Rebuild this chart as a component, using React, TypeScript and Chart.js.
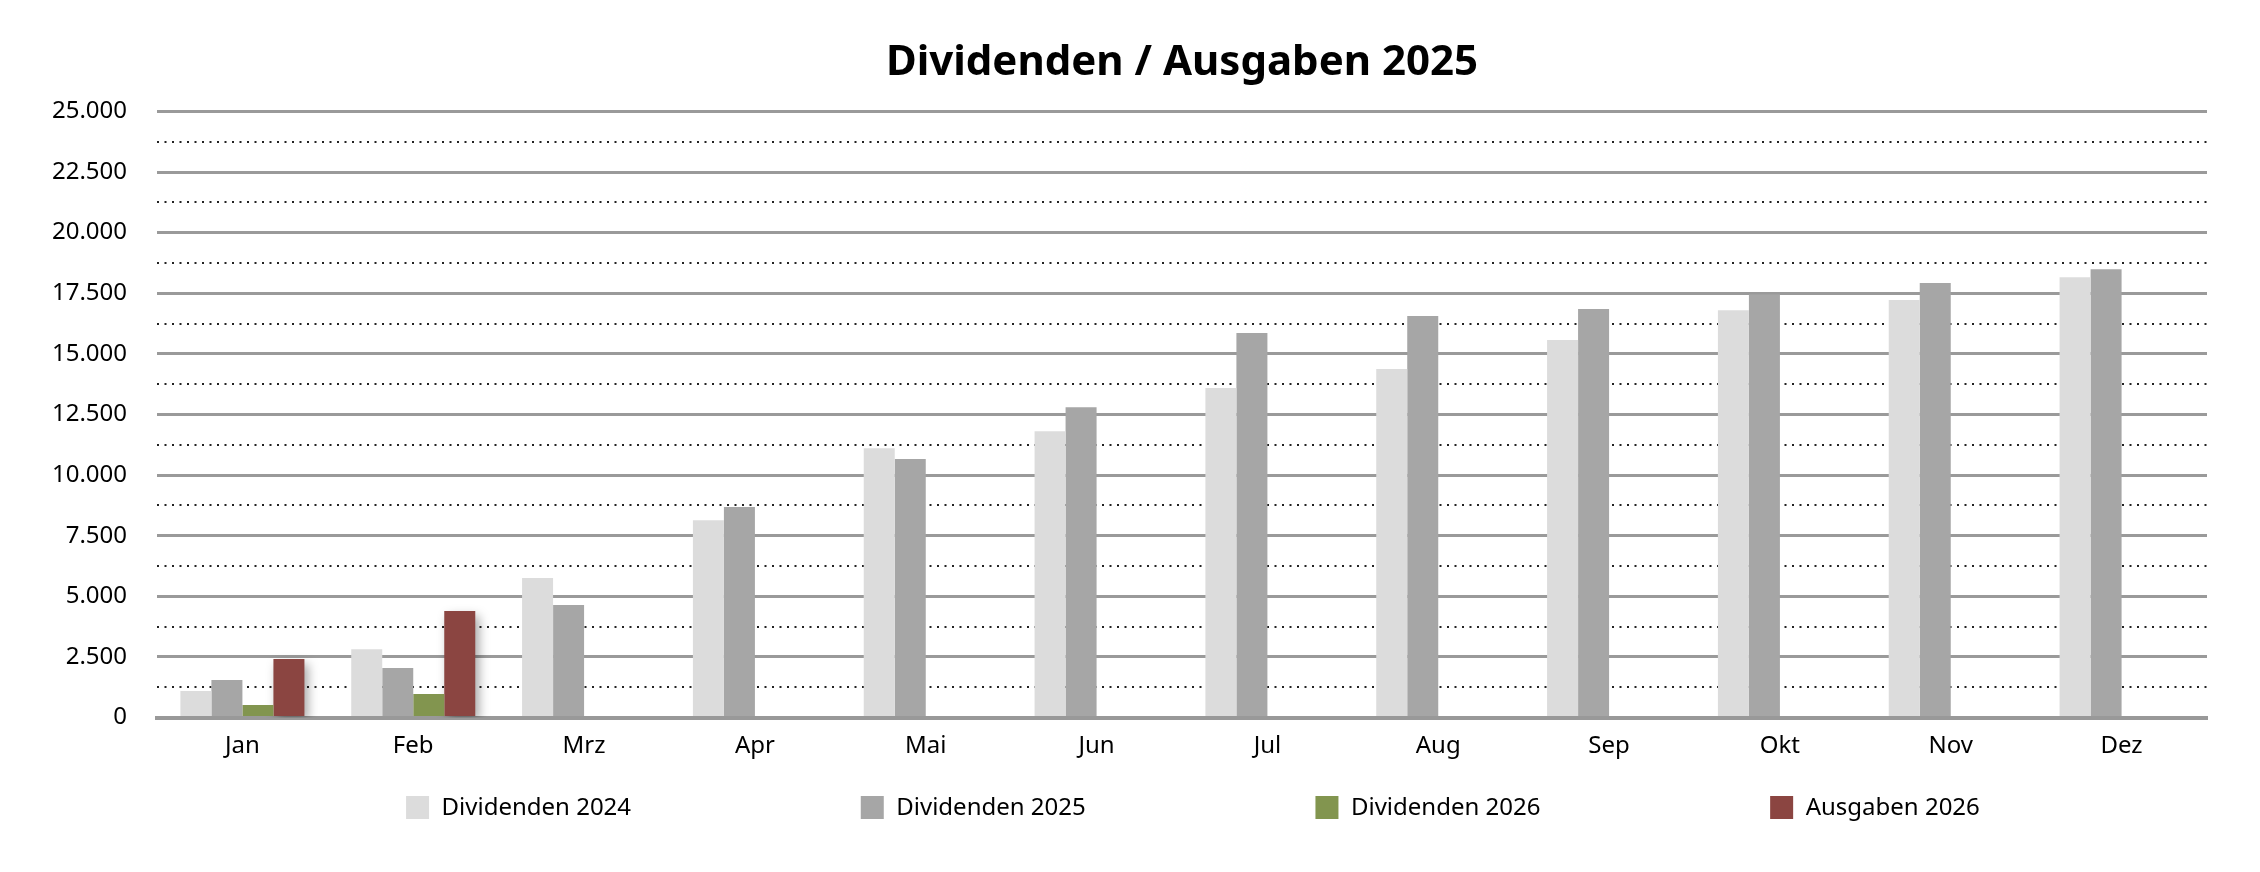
import React, { useEffect, useRef } from 'react';
import { Chart, registerables } from 'chart.js';

Chart.register(...registerables);

// ---- data ----
const months = ['Jan', 'Feb', 'Mrz', 'Apr', 'Mai', 'Jun', 'Jul', 'Aug', 'Sep', 'Okt', 'Nov', 'Dez'];
const dividenden2024 = [1090, 2820, 5750, 8140, 11110, 11810, 13590, 14370, 15570, 16800, 17220, 18160];
const dividenden2025 = [1550, 2040, 4640, 8680, 10660, 12800, 15860, 16560, 16850, 17450, 17920, 18490];
const dividenden2026 = [520, 970, null, null, null, null, null, null, null, null, null, null];
const ausgaben2026 = [2410, 4390, null, null, null, null, null, null, null, null, null, null];
const seriesNames = ['Dividenden 2024', 'Dividenden 2025', 'Dividenden 2026', 'Ausgaben 2026'];
const seriesColors = ['#dcdcdc', '#a6a6a6', '#82954f', '#8b4541'];
const titleText = 'Dividenden / Ausgaben 2025';
const yMin = 0;
const yMax = 25000;
const yMajorStep = 2500;
const yMinorStep = 1250;

const FONT = "'Noto Sans', sans-serif";

function formatDE(v: number): string {
  const s = String(Math.round(v));
  return s.replace(/\B(?=(\d{3})+(?!\d))/g, '.');
}

const shadowPlugin = {
  id: 'barShadow',
  beforeDatasetDraw(chart: any, args: any) {
    if (args.index === 3) {
      const ctx = chart.ctx;
      ctx.save();
      ctx.shadowColor = 'rgba(0,0,0,0.35)';
      ctx.shadowBlur = 10;
      ctx.shadowOffsetX = 4;
      ctx.shadowOffsetY = 5;
    }
  },
  afterDatasetDraw(chart: any, args: any) {
    if (args.index === 3) {
      chart.ctx.restore();
    }
  },
};

const spacedLegendPlugin = {
  id: 'spacedLegend',
  afterDraw(chart: any) {
    const { ctx, chartArea } = chart;
    const w = chartArea.right - chartArea.left;
    const y = chartArea.bottom + 90;
    const box = 23;
    ctx.save();
    ctx.font = `24px ${FONT}`;
    ctx.textBaseline = 'middle';
    ctx.textAlign = 'left';
    chart.data.datasets.forEach((ds: any, i: number) => {
      const x = chartArea.left + w * (0.1215 + i * 0.2218);
      ctx.fillStyle = ds.backgroundColor;
      ctx.fillRect(x, y - box / 2, box, box);
      ctx.fillStyle = '#000';
      ctx.fillText(ds.label, x + box + 12.5, y + 1);
    });
    ctx.restore();
  },
};

export default function App() {
  const canvasRef = useRef<HTMLCanvasElement | null>(null);

  useEffect(() => {
    if (!canvasRef.current) return;
    const seriesData = [dividenden2024, dividenden2025, dividenden2026, ausgaben2026];
    const chart = new Chart(canvasRef.current, {
      type: 'bar',
      data: {
        labels: months,
        datasets: seriesData.map((d, i) => ({
          label: seriesNames[i],
          data: d,
          backgroundColor: seriesColors[i],
          borderWidth: 0,
          categoryPercentage: 0.726,
          barPercentage: 1.0,
        })),
      },
      options: {
        responsive: false,
        animation: false,
        devicePixelRatio: 1,
        layout: { padding: { left: 0, right: 45, top: 0, bottom: 0 } },
        plugins: {
          legend: { display: false },
          tooltip: { enabled: false },
          title: {
            display: true,
            text: titleText,
            fullSize: false,
            color: '#000',
            font: { family: FONT, size: 42, weight: 'bold' },
            padding: { top: 30, bottom: 23 },
          },
        },
        scales: {
          x: {
            grid: { display: false },
            border: { display: true, color: '#999', width: 4 },
            ticks: {
              color: '#000',
              font: { family: FONT, size: 24 },
              padding: 6,
              maxRotation: 0,
              autoSkip: false,
            },
            afterFit: (s: any) => {
              s.height = 146.5;
            },
          },
          y: {
            position: 'left',
            min: yMin,
            max: yMax,
            ticks: {
              stepSize: yMajorStep,
              color: '#000',
              font: { family: FONT, size: 24 },
              padding: 30,
              callback: (v: any) => formatDE(Number(v)),
            },
            grid: { color: '#9a9a9a', lineWidth: 3, drawTicks: false },
            border: { display: false },
            afterFit: (s: any) => {
              s.width = 149;
            },
          },
          y2: {
            position: 'left',
            min: yMin,
            max: yMax,
            ticks: { display: false, stepSize: yMinorStep },
            grid: {
              drawTicks: false,
              lineWidth: 2,
              color: (c: any) =>
                c.tick && c.tick.value % yMajorStep === 0 ? 'rgba(0,0,0,0)' : '#222',
            },
            border: { display: false, dash: [2, 5.5] },
            afterFit: (s: any) => {
              s.width = 0;
            },
          },
        },
      } as any,
      plugins: [shadowPlugin, spacedLegendPlugin],
    });
    return () => chart.destroy();
  }, []);

  return (
    <div style={{ width: 2244, height: 856 }}>
      <canvas ref={canvasRef} width={2244} height={856} style={{ display: 'block' }} />
    </div>
  );
}
